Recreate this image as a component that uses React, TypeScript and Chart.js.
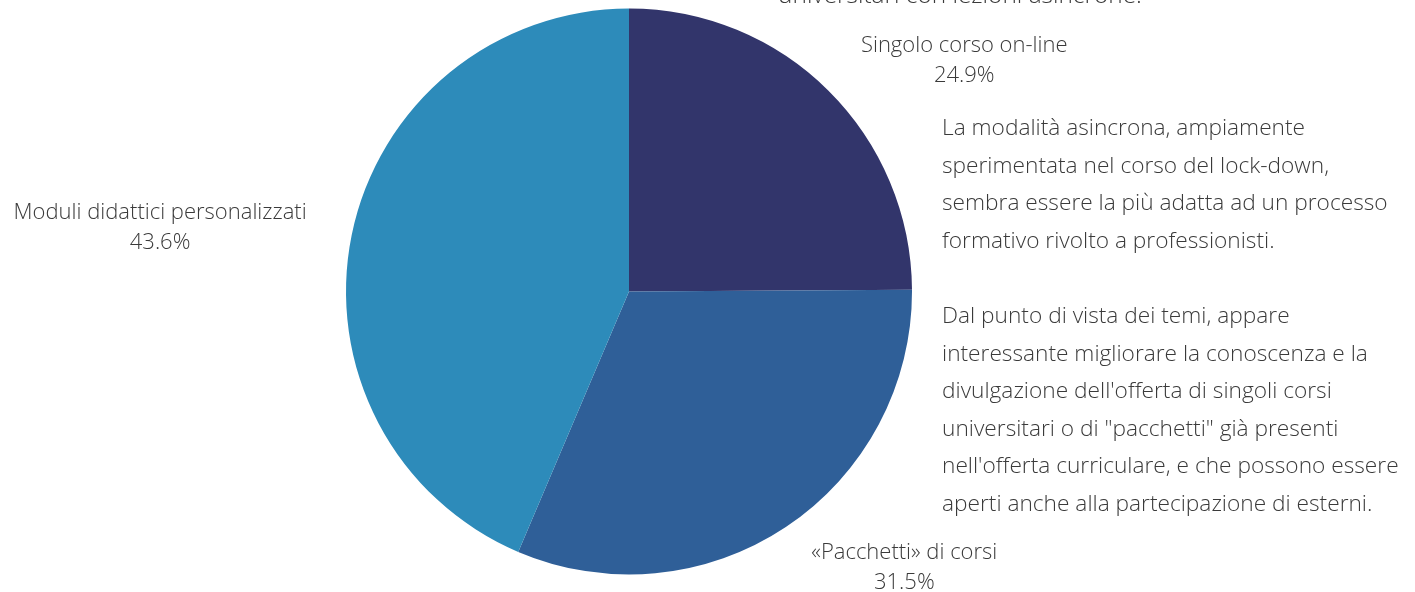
import React, { useEffect, useRef } from "react";
import { Chart, registerables } from "chart.js";

Chart.register(...registerables);

const categories = ["Singolo corso on-line", "«Pacchetti» di corsi", "Moduli didattici personalizzati"];
const values = [24.9, 31.5, 43.6];
const colors = ["#32356b", "#2f5f98", "#2d8bba"];

const topLine = "universitari con lezioni asincrone.";
const paragraphLines = [
  "La modalità asincrona, ampiamente",
  "sperimentata nel corso del lock-down,",
  "sembra essere la più adatta ad un processo",
  "formativo rivolto a professionisti.",
  "",
  "Dal punto di vista dei temi, appare",
  "interessante migliorare la conoscenza e la",
  "divulgazione dell'offerta di singoli corsi",
  "universitari o di \"pacchetti\" già presenti",
  "nell'offerta curriculare, e che possono essere",
  "aperti anche alla partecipazione di esterni.",
];

const TEXT_COLOR = "#3a3a3a";
const FONT = "'Open Sans', 'Noto Sans', sans-serif";

const outsideLabels = {
  id: "outsideLabels",
  afterDatasetsDraw(chart: any) {
    const ctx = chart.ctx;
    const meta = chart.getDatasetMeta(0);
    const data = chart.data.datasets[0].data as number[];
    const total = data.reduce((a, b) => a + b, 0);
    const offset = 46;
    const lineH = 30;
    ctx.save();
    ctx.font = `300 22px ${FONT}`;
    ctx.fillStyle = TEXT_COLOR;
    ctx.textAlign = "center";
    ctx.textBaseline = "alphabetic";
    meta.data.forEach((arc: any, i: number) => {
      const p = arc.getProps(["x", "y", "startAngle", "endAngle", "outerRadius"], true);
      const mid = (p.startAngle + p.endAngle) / 2;
      const dx = Math.cos(mid);
      const dy = Math.sin(mid);
      const px = p.x + dx * (p.outerRadius + offset);
      const py = p.y + dy * (p.outerRadius + offset);
      const pct = ((data[i] / total) * 100).toFixed(1) + "%";
      const lines = [String(chart.data.labels[i]), pct];
      const w = Math.max(...lines.map((l) => ctx.measureText(l).width));
      const cx = px + Math.sign(dx) * (w / 2);
      const cy = py + 1;
      lines.forEach((l, j) => {
        ctx.fillText(l, cx, cy + (j - (lines.length - 1) / 2) * lineH + 7.5);
      });
    });
    ctx.restore();
  },
};

export default function App() {
  const ref = useRef<HTMLCanvasElement | null>(null);
  useEffect(() => {
    if (!ref.current) return;
    const chart = new Chart(ref.current, {
      type: "pie",
      data: {
        labels: categories,
        datasets: [
          {
            data: values,
            backgroundColor: colors,
            borderWidth: 0,
          },
        ],
      },
      options: {
        animation: false,
        responsive: true,
        maintainAspectRatio: false,
        layout: { padding: { left: 346, right: 503, top: 8, bottom: 17 } },
        plugins: {
          legend: { display: false },
          tooltip: { enabled: false },
        },
      },
      plugins: [outsideLabels],
    });
    return () => chart.destroy();
  }, []);

  return (
    <div
      style={{
        position: "absolute",
        left: 0,
        top: 0,
        width: 1415,
        height: 592,
        overflow: "hidden",
        background: "#ffffff",
        fontFamily: FONT,
        fontWeight: 300,
        color: TEXT_COLOR,
      }}
    >
      <canvas ref={ref} style={{ position: "absolute", left: 0, top: 0, width: 1415, height: 592 }} />
      <div
        style={{
          position: "absolute",
          left: 710,
          width: 500,
          top: -25,
          fontSize: 24.4,
          lineHeight: "37.5px",
          textAlign: "center",
          whiteSpace: "nowrap",
        }}
      >
        {topLine}
      </div>
      <div
        style={{
          position: "absolute",
          left: 942,
          top: 108,
          fontSize: 22.7,
          lineHeight: "37.6px",
          whiteSpace: "nowrap",
        }}
      >
        {paragraphLines.map((l, i) => (
          <div key={i} style={{ height: 37.6 }}>
            {l}
          </div>
        ))}
      </div>
    </div>
  );
}
